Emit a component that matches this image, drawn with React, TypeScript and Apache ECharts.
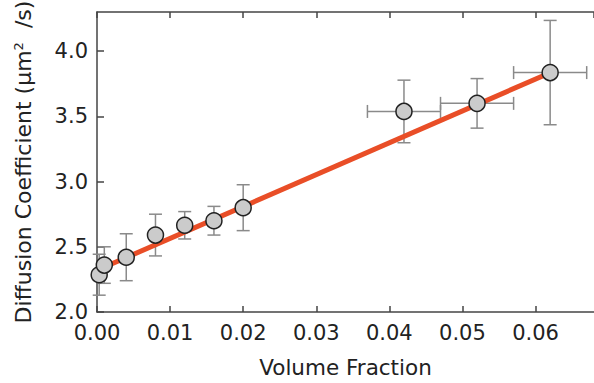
import React, { useEffect, useRef } from "react";
import * as echarts from "echarts";

const xValues = [0.0003, 0.001, 0.004, 0.008, 0.012, 0.016, 0.02, 0.042, 0.052, 0.062];
const yValues = [2.286, 2.36, 2.42, 2.59, 2.665, 2.7, 2.8, 3.538, 3.6, 3.836];
const yErrors = [0.157, 0.14, 0.18, 0.16, 0.105, 0.11, 0.176, 0.24, 0.19, 0.4];
const xErrors = [0, 0, 0, 0, 0, 0, 0, 0.005, 0.005, 0.005];
const fitLine = [
  [0, 2.32],
  [0.062, 3.835],
];

export default function App() {
  const ref = useRef<HTMLDivElement>(null);
  useEffect(() => {
    if (!ref.current) return;
    const chart = echarts.init(ref.current, null, { renderer: "svg" });
    const points = xValues.map((x, i) => [x, yValues[i]]);
    const errData = xValues.map((x, i) => [x, yValues[i], xErrors[i], yErrors[i]]);
    const errColor = "#8a8a8a";
    const cap = 6.5;
    const font = "DejaVu Sans";
    const axisColor = "#444";
    chart.setOption({
      animation: false,
      grid: { left: 97, top: 7, width: 503, height: 309.7, containLabel: false },
      xAxis: [
        {
          type: "value",
          min: 0,
          max: 0.068,
          interval: 0.01,
          name: "Volume Fraction",
          nameLocation: "middle",
          nameGap: 44,
          nameTextStyle: { fontFamily: font, fontSize: 21.5, color: "#222" },
          axisLine: { show: true, lineStyle: { color: axisColor, width: 1.5 } },
          axisTick: { show: true, inside: true, length: 6, lineStyle: { color: axisColor, width: 1.5 } },
          axisLabel: {
            fontFamily: font,
            fontSize: 21,
            lineHeight: 18,
            color: "#222",
            margin: 12,
            showMaxLabel: false,
            formatter: (v: number) => v.toFixed(2),
          },
          splitLine: { show: false },
        },
        {
          type: "value",
          position: "top",
          min: 0,
          max: 0.068,
          interval: 0.01,
          axisLine: { show: true, lineStyle: { color: axisColor, width: 1.5 } },
          axisTick: { show: true, inside: true, length: 6, lineStyle: { color: axisColor, width: 1.5 } },
          axisLabel: { show: false },
          splitLine: { show: false },
        },
      ],
      yAxis: {
        type: "value",
        min: 2.0,
        max: 4.3,
        interval: 0.5,
        name: "{n|Diffusion Coefficient (μm}{sup|2}{n|  /s)}",
        nameLocation: "middle",
        nameRotate: 90,
        nameGap: 63,
        nameTextStyle: {
          rich: {
            n: { fontFamily: font, fontSize: 22, color: "#222" },
            sup: { fontFamily: font, fontSize: 13, color: "#222", verticalAlign: "top", padding: [0, 0, 8, 0] },
          },
        },
        axisLine: { show: true, lineStyle: { color: axisColor, width: 1.5 } },
        axisTick: { show: true, inside: true, length: 7, lineStyle: { color: axisColor, width: 1.5 } },
        axisLabel: {
          fontFamily: font,
          fontSize: 21,
          lineHeight: 16,
          color: "#222",
          margin: 9,
          showMaxLabel: false,
          formatter: (v: number) => v.toFixed(1),
        },
        splitLine: { show: false },
      },
      series: [
        {
          type: "custom",
          z: 1,
          data: errData,
          renderItem: (params: any, api: any) => {
            const x = api.value(0);
            const y = api.value(1);
            const xe = api.value(2);
            const ye = api.value(3);
            const top = api.coord([x, y + ye]);
            const bot = api.coord([x, y - ye]);
            const children: any[] = [];
            const style = { stroke: errColor, lineWidth: 1.5 };
            children.push({ type: "line", shape: { x1: top[0], y1: top[1], x2: bot[0], y2: bot[1] }, style });
            children.push({ type: "line", shape: { x1: top[0] - cap, y1: top[1], x2: top[0] + cap, y2: top[1] }, style });
            children.push({ type: "line", shape: { x1: bot[0] - cap, y1: bot[1], x2: bot[0] + cap, y2: bot[1] }, style });
            if (xe > 0) {
              const l = api.coord([x - xe, y]);
              const r = api.coord([x + xe, y]);
              children.push({ type: "line", shape: { x1: l[0], y1: l[1], x2: r[0], y2: r[1] }, style });
              children.push({ type: "line", shape: { x1: l[0], y1: l[1] - cap, x2: l[0], y2: l[1] + cap }, style });
              children.push({ type: "line", shape: { x1: r[0], y1: r[1] - cap, x2: r[0], y2: r[1] + cap }, style });
            }
            return { type: "group", children };
          },
        },
        {
          type: "line",
          z: 2,
          data: fitLine,
          showSymbol: false,
          symbol: "none",
          lineStyle: { color: "#e94e27", width: 5 },
        },
        {
          type: "scatter",
          z: 3,
          data: points,
          symbol: "circle",
          symbolSize: 16,
          itemStyle: { color: "#cbcbcb", borderColor: "#222", borderWidth: 1.5, opacity: 1 },
        },
      ],
    });
    return () => chart.dispose();
  }, []);
  return (
    <div
      ref={ref}
      style={{ position: "fixed", left: 0, top: 0, width: 594, height: 383, background: "#fff" }}
    />
  );
}
